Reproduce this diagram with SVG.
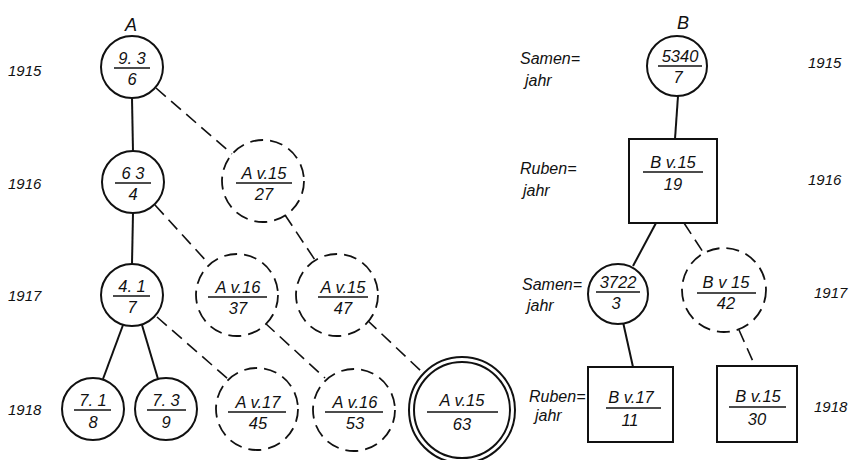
<svg xmlns="http://www.w3.org/2000/svg" width="852" height="460" viewBox="0 0 852 460">
<style>
.n{fill:#fff;stroke:#111;stroke-width:2}
.d{fill:#fff;stroke:#111;stroke-width:1.8;stroke-dasharray:13 7}
.c{stroke:#111;stroke-width:2;fill:none}
.cd{stroke:#111;stroke-width:1.6;stroke-dasharray:13 7;fill:none}
.f{stroke:#111;stroke-width:1.4}
text{font-family:"Liberation Sans",Arial,sans-serif;font-style:italic;font-size:16.5px;fill:#111;text-anchor:middle}
.l{text-anchor:start;font-size:16px}
.y{text-anchor:start;font-size:15px}
.h{font-size:18px}
</style>
<rect width="852" height="460" fill="#fff"/>
<g id="labels">
<text class="h" x="131" y="31">A</text>
<text class="h" x="683" y="29">B</text>
<text class="y" x="8" y="76">1915</text>
<text class="y" x="8" y="189">1916</text>
<text class="y" x="8" y="301">1917</text>
<text class="y" x="8" y="415">1918</text>
<text class="l" x="520" y="64">Samen=</text>
<text class="l" x="525" y="86">jahr</text>
<text class="l" x="520" y="174">Ruben=</text>
<text class="l" x="523" y="196">jahr</text>
<text class="l" x="522" y="290">Samen=</text>
<text class="l" x="527" y="311">jahr</text>
<text class="l" x="529" y="402">Ruben=</text>
<text class="l" x="535" y="421">jahr</text>
<text class="y" x="808" y="68">1915</text>
<text class="y" x="808" y="185">1916</text>
<text class="y" x="814" y="298">1917</text>
<text class="y" x="814" y="412">1918</text>
</g>
<g id="connectors">
<line class="c" x1="132" y1="98" x2="133" y2="152"/>
<line class="c" x1="133" y1="213" x2="132" y2="264"/>
<line class="c" x1="123" y1="325" x2="103" y2="379"/>
<line class="c" x1="142" y1="325" x2="158" y2="379"/>
<line class="cd" x1="156" y1="88" x2="232" y2="154"/>
<line class="cd" x1="155" y1="205" x2="209" y2="264"/>
<line class="cd" x1="285" y1="215" x2="315" y2="260"/>
<line class="cd" x1="157" y1="317" x2="228" y2="379"/>
<line class="cd" x1="265" y1="323" x2="325" y2="378"/>
<line class="cd" x1="367" y1="320" x2="422" y2="372"/>
<line class="c" x1="678" y1="96" x2="675" y2="139"/>
<line class="c" x1="656" y1="223" x2="633" y2="266"/>
<line class="cd" x1="684" y1="223" x2="703" y2="252"/>
<line class="c" x1="623" y1="322" x2="633" y2="367"/>
<line class="cd" x1="739" y1="330" x2="755" y2="366"/>
</g>
<g id="n93"><circle class="n" cx="132" cy="67" r="31"/><line class="f" x1="114" y1="68" x2="150" y2="68"/><text x="132" y="64">9. 3</text><text x="132" y="85">6</text></g>
<g id="n63"><circle class="n" cx="133" cy="182" r="31"/><line class="f" x1="115" y1="183" x2="151" y2="183"/><text x="133" y="179">6 3</text><text x="133" y="200">4</text></g>
<g id="n41"><circle class="n" cx="132" cy="295" r="31"/><line class="f" x1="113" y1="296" x2="150" y2="296"/><text x="132" y="292">4. 1</text><text x="132" y="313">7</text></g>
<g id="n71"><circle class="n" cx="93" cy="409" r="31"/><line class="f" x1="74" y1="410" x2="111" y2="410"/><text x="93" y="406">7. 1</text><text x="93" y="428">8</text></g>
<g id="n73"><circle class="n" cx="166" cy="409" r="31"/><line class="f" x1="147" y1="410" x2="186" y2="410"/><text x="166" y="406">7. 3</text><text x="166" y="428">9</text></g>
<g id="a27"><circle class="d" cx="263" cy="181" r="41"/><line class="f" x1="236" y1="183" x2="292" y2="183"/><text x="264" y="179">A v.15</text><text x="264" y="200">27</text></g>
<g id="a37"><circle class="d" cx="237" cy="295" r="41"/><line class="f" x1="208" y1="297" x2="267" y2="297"/><text x="238" y="293">A v.16</text><text x="238" y="314">37</text></g>
<g id="a47"><circle class="d" cx="337" cy="295" r="41"/><line class="f" x1="318" y1="297" x2="368" y2="297"/><text x="343" y="293">A v.15</text><text x="343" y="314">47</text></g>
<g id="a45"><circle class="d" cx="257" cy="409" r="41"/><line class="f" x1="228" y1="412" x2="286" y2="412"/><text x="258" y="408">A v.17</text><text x="258" y="429">45</text></g>
<g id="a53"><circle class="d" cx="354" cy="410" r="41"/><line class="f" x1="325" y1="412" x2="383" y2="412"/><text x="355" y="408">A v.16</text><text x="355" y="429">53</text></g>
<g id="a63"><circle class="n" cx="462" cy="410" r="53"/><circle class="n" cx="462" cy="410" r="48"/><line class="f" x1="427" y1="412" x2="498" y2="412"/><text x="462" y="406">A v.15</text><text x="462" y="430">63</text></g>
<g id="b5340"><circle class="n" cx="677" cy="66" r="30"/><line class="f" x1="658" y1="66" x2="702" y2="66"/><text x="680" y="62">5340</text><text x="678" y="83">7</text></g>
<g id="b19"><rect class="n" x="629" y="139" width="88" height="84"/><line class="f" x1="643" y1="172" x2="703" y2="172"/><text x="673" y="168">B v.15</text><text x="673" y="190">19</text></g>
<g id="b3722"><circle class="n" cx="618" cy="294" r="30"/><line class="f" x1="596" y1="292" x2="640" y2="292"/><text x="618" y="288">3722</text><text x="616" y="309">3</text></g>
<g id="b42"><circle class="d" cx="724" cy="290" r="42"/><line class="f" x1="697" y1="293" x2="756" y2="293"/><text x="726" y="288">B v 15</text><text x="726" y="309">42</text></g>
<g id="b11"><rect class="n" x="588" y="367" width="85" height="75"/><line class="f" x1="606" y1="408" x2="661" y2="408"/><text x="631" y="403">B v.17</text><text x="630" y="426">11</text></g>
<g id="b30"><rect class="n" x="717" y="366" width="80" height="76"/><line class="f" x1="729" y1="407" x2="786" y2="407"/><text x="758" y="402">B v.15</text><text x="757" y="425">30</text></g>
</svg>
